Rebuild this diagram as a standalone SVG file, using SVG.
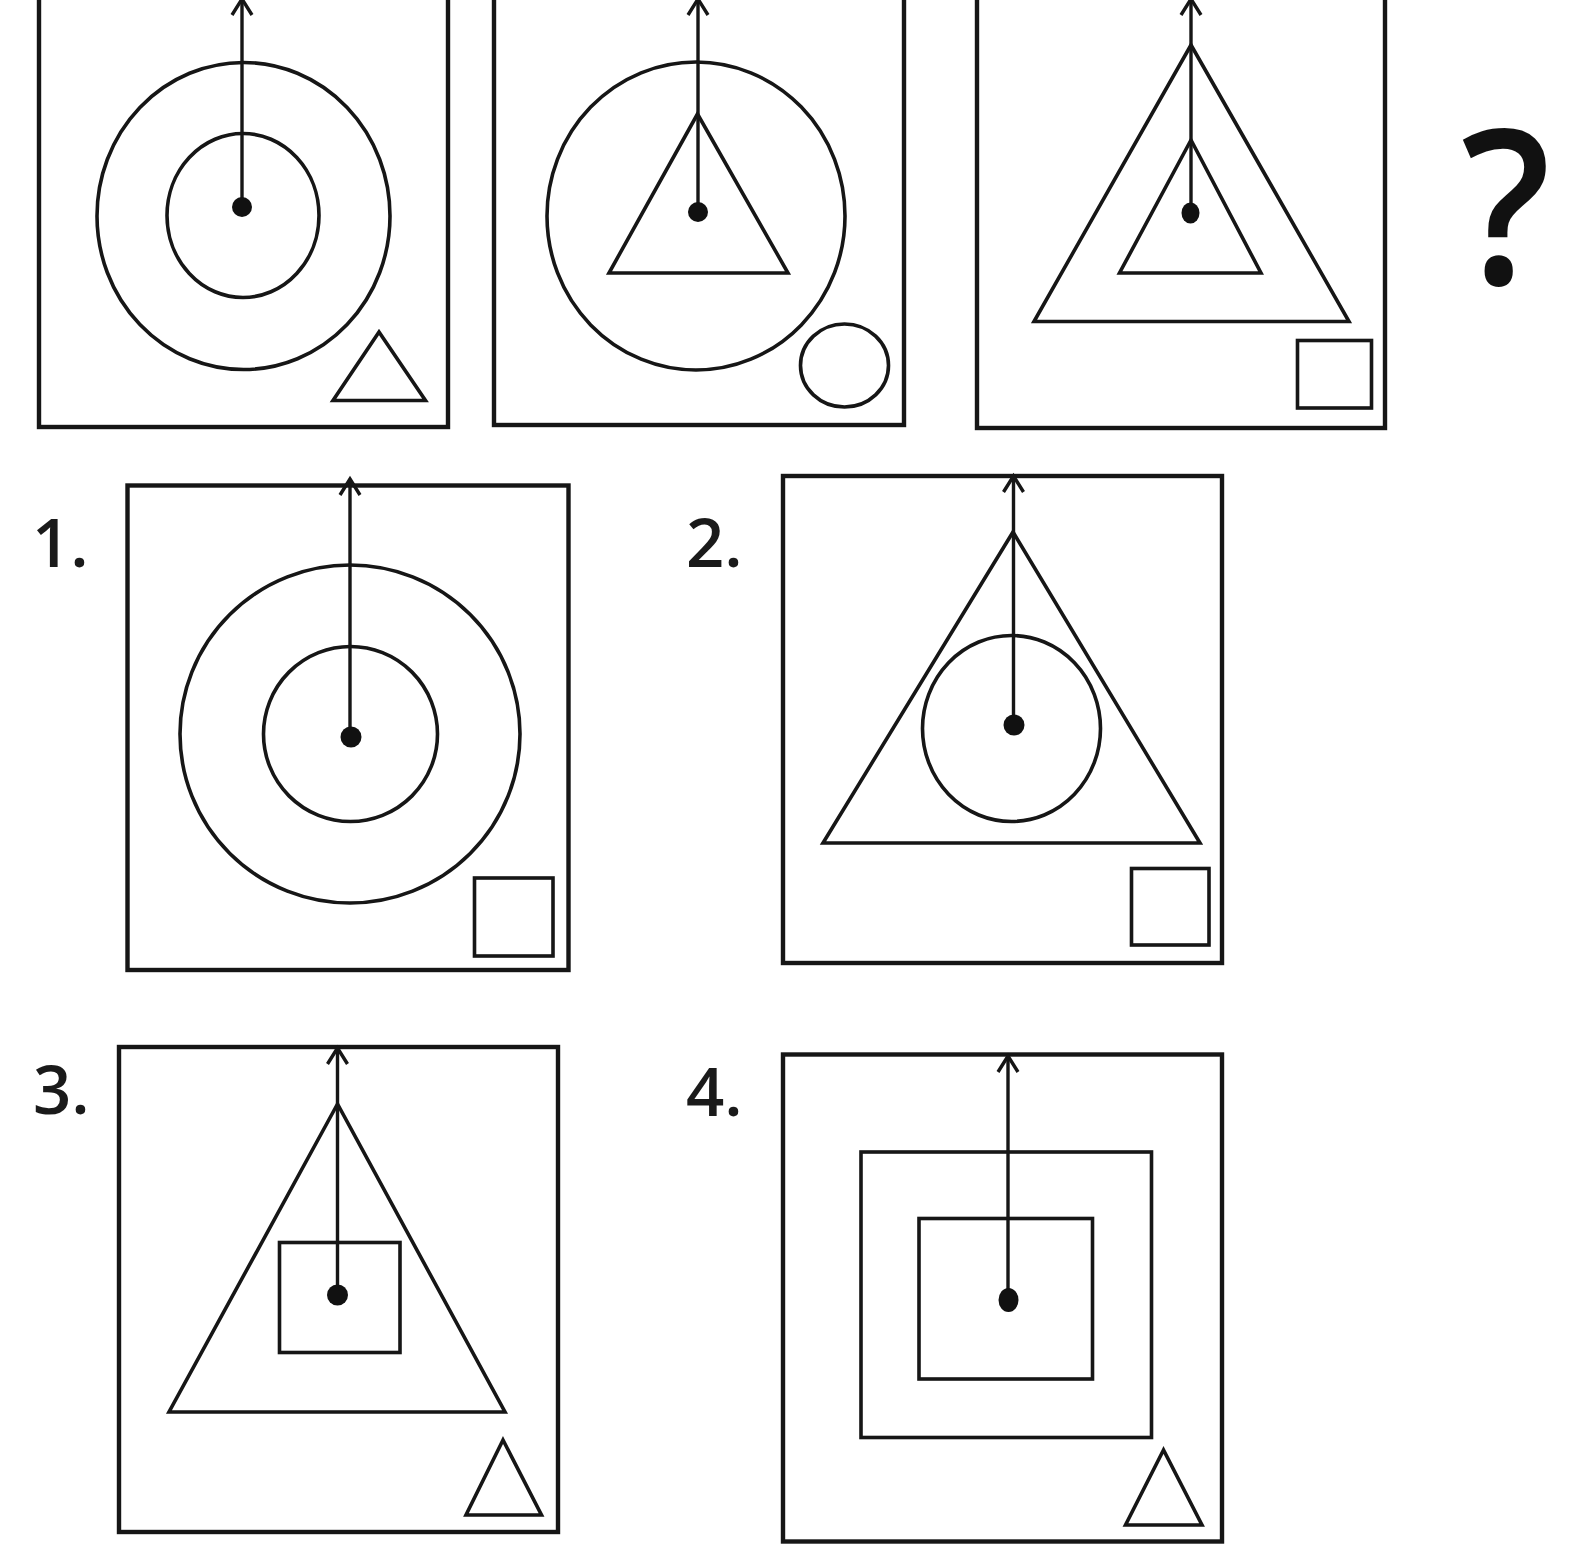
<svg xmlns="http://www.w3.org/2000/svg" width="1588" height="1559" viewBox="0 0 1588 1559">
<style>
.frame{fill:none;stroke:#161616;stroke-width:4.4}
.sh{fill:none;stroke:#161616;stroke-width:3.6;stroke-linejoin:miter}
.arr{fill:none;stroke:#161616;stroke-width:3.4}
.dot{fill:#111}
.lbl{font-family:"Open Sans","Liberation Sans",sans-serif;font-size:67px;font-weight:600;fill:#1a1a1a}
.q{font-family:"Open Sans","Liberation Sans",sans-serif;font-size:215px;font-weight:600;fill:#111}
</style>
<defs>
<marker id="head" markerUnits="userSpaceOnUse" orient="auto" refX="0" refY="0" markerWidth="30" markerHeight="30" overflow="visible">
<path d="M-16,-10 L0,0 L-16,10" fill="none" stroke="#161616" stroke-width="3.4"/>
</marker>
</defs>
<rect width="1588" height="1559" fill="#fff"/>

<g id="panelA">
<rect class="frame" x="39" y="-10" width="409" height="437"/>
<ellipse class="sh" cx="243.5" cy="216" rx="146.5" ry="153.5"/>
<ellipse class="sh" cx="243" cy="215.5" rx="76" ry="82"/>
<polygon class="sh" points="379,332 333,400.5 425.5,400.5"/>
</g>

<g id="panelB">
<rect class="frame" x="494" y="-10" width="410" height="435"/>
<ellipse class="sh" cx="696" cy="216" rx="149" ry="154"/>
<polygon class="sh" points="697.5,114 609,273 788,273"/>
<ellipse class="sh" cx="844.5" cy="365.5" rx="44" ry="41.5"/>
</g>

<g id="panelC">
<rect class="frame" x="977" y="-10" width="408" height="438"/>
<polygon class="sh" points="1191,45 1034,321.5 1349,321.5"/>
<polygon class="sh" points="1191,140 1119.5,273 1261,273"/>
<rect class="sh" x="1297.5" y="340.5" width="74" height="67.5"/>
</g>

<g id="question">
<text class="q" x="1506" y="284" text-anchor="middle" transform="translate(1506 0) scale(0.92 1) translate(-1506 0)">?</text>
</g>

<g id="option1">
<text class="lbl" x="32" y="567">1.</text>
<rect class="frame" x="127.5" y="485.5" width="441" height="484.5"/>
<ellipse class="sh" cx="350" cy="734" rx="170" ry="169"/>
<ellipse class="sh" cx="350.5" cy="734" rx="87" ry="87.5"/>
<rect class="sh" x="474.5" y="878" width="78.5" height="78"/>
</g>

<g id="option2">
<text class="lbl" x="686" y="567">2.</text>
<rect class="frame" x="783" y="476" width="439" height="487"/>
<polygon class="sh" points="1013,532 823,843 1200,843"/>
<ellipse class="sh" cx="1011.5" cy="728.5" rx="89" ry="93"/>
<rect class="sh" x="1131.5" y="868.5" width="77.5" height="76.5"/>
</g>

<g id="option3">
<text class="lbl" x="33" y="1114">3.</text>
<rect class="frame" x="119" y="1047" width="439" height="485"/>
<polygon class="sh" points="337.5,1104 169,1412 505,1412"/>
<rect class="sh" x="279.5" y="1242.5" width="120.5" height="110"/>
<polygon class="sh" points="503,1440 466,1515 541.5,1515"/>
</g>

<g id="option4">
<text class="lbl" x="686" y="1116">4.</text>
<rect class="frame" x="783" y="1054.5" width="439" height="487"/>
<rect class="sh" x="861" y="1152" width="290.5" height="285.5"/>
<rect class="sh" x="919" y="1218.5" width="173.5" height="160.5"/>
<polygon class="sh" points="1163.5,1450 1125.5,1525 1202,1525"/>
</g>

<g id="connectors">
<line class="arr" x1="242" y1="207" x2="242" y2="-1" marker-end="url(#head)"/>
<circle class="dot" cx="242" cy="207" r="10"/>
<line class="arr" x1="698" y1="212" x2="698" y2="-1" marker-end="url(#head)"/>
<circle class="dot" cx="698" cy="212" r="10"/>
<line class="arr" x1="1191" y1="213" x2="1191" y2="-1" marker-end="url(#head)"/>
<ellipse class="dot" cx="1190.5" cy="213" rx="9" ry="10.5"/>
<line class="arr" x1="350" y1="737" x2="350" y2="479" marker-end="url(#head)"/>
<circle class="dot" cx="351" cy="737" r="10.5"/>
<line class="arr" x1="1013.5" y1="725" x2="1013.5" y2="476" marker-end="url(#head)"/>
<circle class="dot" cx="1014" cy="725" r="10.5"/>
<line class="arr" x1="337.5" y1="1295" x2="337.5" y2="1048" marker-end="url(#head)"/>
<circle class="dot" cx="337.5" cy="1295" r="10.5"/>
<line class="arr" x1="1008" y1="1300" x2="1008" y2="1056" marker-end="url(#head)"/>
<ellipse class="dot" cx="1008.5" cy="1300" rx="10" ry="12"/>
</g>
</svg>
